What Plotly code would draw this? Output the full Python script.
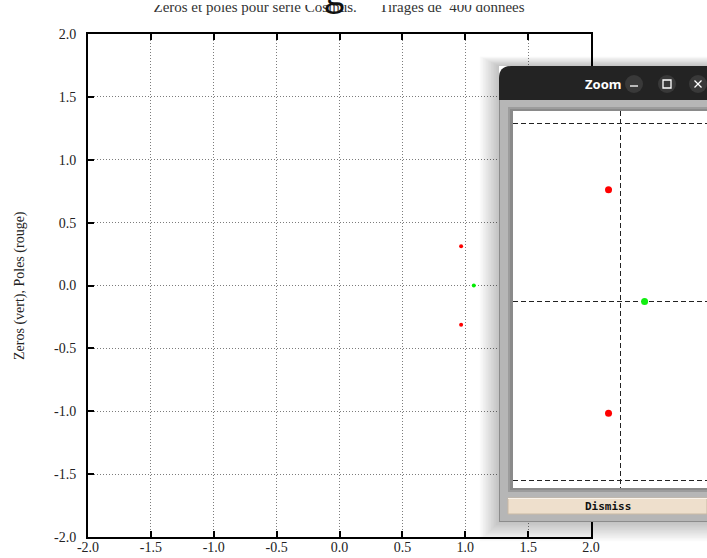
import plotly.graph_objects as go

W, H = 707, 558

# Poles (red) and zeros (green) in the complex plane
pole_re = [0.967, 0.967]
pole_im = [0.313, -0.313]
zero_re = [1.068]
zero_im = [0.0]

tick_vals = [-2.0, -1.5, -1.0, -0.5, 0.0, 0.5, 1.0, 1.5, 2.0]
tick_text = ["-2.0", "-1.5", "-1.0", "-0.5", "0.0", "0.5", "1.0", "1.5", "2.0"]

title_text = ("Zeros et poles pour serie Cosinus."
              "\u00a0\u00a0\u00a0\u00a0\u00a0\u00a0Tirages de\u00a0\u00a0400 donnees")
ylabel_text = "Zeros (vert), Poles (rouge)"

SERIF = "Liberation Serif, Times New Roman, serif"


def fx(x):
    return x / W


def fy(y):
    return 1 - y / H


def rect_d(x0, y0, x1, y1):
    return (f"M{fx(x0):.5f},{fy(y0):.5f} H{fx(x1):.5f} "
            f"V{fy(y1):.5f} H{fx(x0):.5f} Z ")


def ring(outer, inner, color, **kw):
    return dict(type="path", xref="paper", yref="paper",
                path=rect_d(*outer) + rect_d(*inner), fillrule="evenodd",
                fillcolor=color, line=dict(width=0), layer="above", **kw)


def box(x0, y0, x1, y1, fill, line_color=None, lw=0):
    return dict(type="rect", xref="paper", yref="paper",
                x0=fx(x0), x1=fx(x1), y0=fy(y1), y1=fy(y0),
                fillcolor=fill, layer="above",
                line=dict(width=lw, color=line_color or fill))


def seg(x0, y0, x1, y1, color="white", lw=1.3):
    return dict(type="line", xref="paper", yref="paper",
                x0=fx(x0), x1=fx(x1), y0=fy(y0), y1=fy(y1),
                line=dict(color=color, width=lw), layer="above")


fig = go.Figure()

# main complex plane
fig.add_trace(go.Scatter(x=pole_re, y=pole_im, mode="markers", xaxis="x", yaxis="y",
                         marker=dict(color="#ff0000", size=4), showlegend=False))
fig.add_trace(go.Scatter(x=zero_re, y=zero_im, mode="markers", xaxis="x", yaxis="y",
                         marker=dict(color="#00ee00", size=4), showlegend=False))
# magnified view
fig.add_trace(go.Scatter(x=pole_re, y=pole_im, mode="markers", xaxis="x2", yaxis="y2",
                         marker=dict(color="#ff0000", size=7), showlegend=False))
fig.add_trace(go.Scatter(x=zero_re, y=zero_im, mode="markers", xaxis="x2", yaxis="y2",
                         marker=dict(color="#11ee11", size=7), showlegend=False))
# heading strip: text clipped along its upper edge
fig.add_trace(go.Scatter(x=[0.5], y=[0.8], mode="text", text=[title_text],
                         textposition="middle center", cliponaxis=True,
                         textfont=dict(family=SERIF, size=15, color="#333"),
                         xaxis="x3", yaxis="y3", showlegend=False, hoverinfo="skip"))

main_axis = dict(range=[-2, 2], tickvals=tick_vals, ticktext=tick_text,
                 showgrid=True, gridcolor="#7c7c7c", griddash="1px,2px", gridwidth=1,
                 zeroline=False, showline=True, linecolor="black", linewidth=2,
                 mirror="ticks", ticks="inside", ticklen=6, tickwidth=2,
                 tickcolor="black", automargin=False,
                 tickfont=dict(family=SERIF, size=14, color="#222"))

zoom_axis = dict(dtick=0.5, tick0=0, showgrid=True, gridcolor="#222", griddash="5px,3px",
                 gridwidth=1, zeroline=False, showline=False, ticks="",
                 showticklabels=False, automargin=False)

blank_axis = dict(range=[0, 1], visible=False, showgrid=False, zeroline=False,
                  automargin=False)

# window geometry (pixels)
wx0, wy0, wx1, wy1 = 499, 66, 707, 522
bar_bottom = 100
ix0, iy0, ix1, iy1 = 513, 111, 707, 488

shapes = []
# drop shadow around the window
for k in range(1, 13):
    s = k * 1.6
    shapes.append(ring((wx0 - s, wy0 - s * 0.5, wx1 + 5, wy1 + s),
                       (wx0, wy0, wx1 + 5, wy1), "rgba(0,0,0,0.018)"))
# title bar with rounded corner
r = 12
shapes.append(dict(type="path", xref="paper", yref="paper", layer="above",
                   path=(f"M{fx(wx0):.5f},{fy(bar_bottom):.5f} V{fy(wy0 + r):.5f} "
                         f"Q{fx(wx0):.5f},{fy(wy0):.5f} {fx(wx0 + r):.5f},{fy(wy0):.5f} "
                         f"H{fx(wx1):.5f} V{fy(bar_bottom):.5f} Z"),
                   fillcolor="#232323", line=dict(width=0)))
# window body and sunken frame round the plot
shapes.append(ring((wx0, bar_bottom, wx1, wy1), (ix0, iy0, ix1, iy1), "#b6b6b6"))
shapes.append(ring((508, 107, 707, 492), (ix0, iy0, ix1, iy1), "#9c9c9c"))
shapes.append(ring((510, 109, 707, 490), (ix0, iy0, ix1, iy1), "#8a8a8a"))
shapes.append(seg(wx0 + 0.5, bar_bottom, wx0 + 0.5, wy1, "#8c8c8c", 1))
shapes.append(seg(wx0, wy1 - 0.5, wx1, wy1 - 0.5, "#8c8c8c", 1))
# Dismiss button
shapes.append(box(508, 498, 707, 514, "#eedfcc", "#c9b9a5", 1))
shapes.append(seg(508, 498.5, 707, 498.5, "#faf3ea", 1))
# title bar buttons
for cx in (634, 667, 698):
    shapes.append(dict(type="circle", xref="paper", yref="paper", layer="above",
                       x0=fx(cx - 9), x1=fx(cx + 9), y0=fy(84 + 9), y1=fy(84 - 9),
                       fillcolor="#393939", line=dict(width=0)))
shapes.append(seg(630, 86, 638, 86))
shapes.append(dict(type="rect", xref="paper", yref="paper", layer="above",
                   x0=fx(663), x1=fx(671), y0=fy(88), y1=fy(80),
                   line=dict(color="white", width=1.3), fillcolor="rgba(0,0,0,0)"))
shapes.append(seg(694.5, 80.5, 701.5, 87.5))
shapes.append(seg(694.5, 87.5, 701.5, 80.5))

annotations = [
    dict(text="g", xref="paper", yref="paper", x=fx(335), y=fy(-9),
         xanchor="center", yanchor="middle", showarrow=False,
         font=dict(family="Open Sans", size=36, color="#111")),
    dict(text=ylabel_text, xref="paper", yref="paper", x=fx(20), y=fy(286),
         xanchor="center", yanchor="middle", textangle=-90, showarrow=False,
         font=dict(family=SERIF, size=14, color="#222")),
    dict(text="<b>Zoom</b>", xref="paper", yref="paper", x=fx(603), y=fy(84),
         xanchor="center", yanchor="middle", showarrow=False,
         font=dict(family="Noto Sans", size=13, color="white")),
    dict(text="<b>Dismiss</b>", xref="paper", yref="paper", x=fx(608), y=fy(506),
         xanchor="center", yanchor="middle", showarrow=False,
         font=dict(family="DejaVu Sans Mono", size=11, color="#111")),
]

fig.update_layout(
    width=W, height=H, autosize=False,
    margin=dict(l=0, r=0, t=0, b=0, pad=0, autoexpand=False),
    paper_bgcolor="white", plot_bgcolor="white",
    font=dict(family=SERIF),
    xaxis=dict(domain=[fx(88), fx(591)], anchor="y", ticklabelstandoff=-4, **main_axis),
    yaxis=dict(domain=[fy(537), fy(34)], anchor="x", ticklabelstandoff=7, **main_axis),
    xaxis2=dict(domain=[fx(ix0), 1.0], anchor="y2",
                range=[1.0 - (620.3 - ix0) / 357, 1.0 + (W - 620.3) / 357], **zoom_axis),
    yaxis2=dict(domain=[fy(iy1), fy(iy0)], anchor="x2",
                range=[-(iy1 - 301.5) / 357, (301.5 - iy0) / 357], **zoom_axis),
    xaxis3=dict(domain=[fx(89), fx(589)], anchor="y3", **blank_axis),
    yaxis3=dict(domain=[fy(20), fy(5)], anchor="x3", **blank_axis),
    shapes=shapes,
    annotations=annotations,
)

fig.write_html("out.html", config={"displayModeBar": False})
